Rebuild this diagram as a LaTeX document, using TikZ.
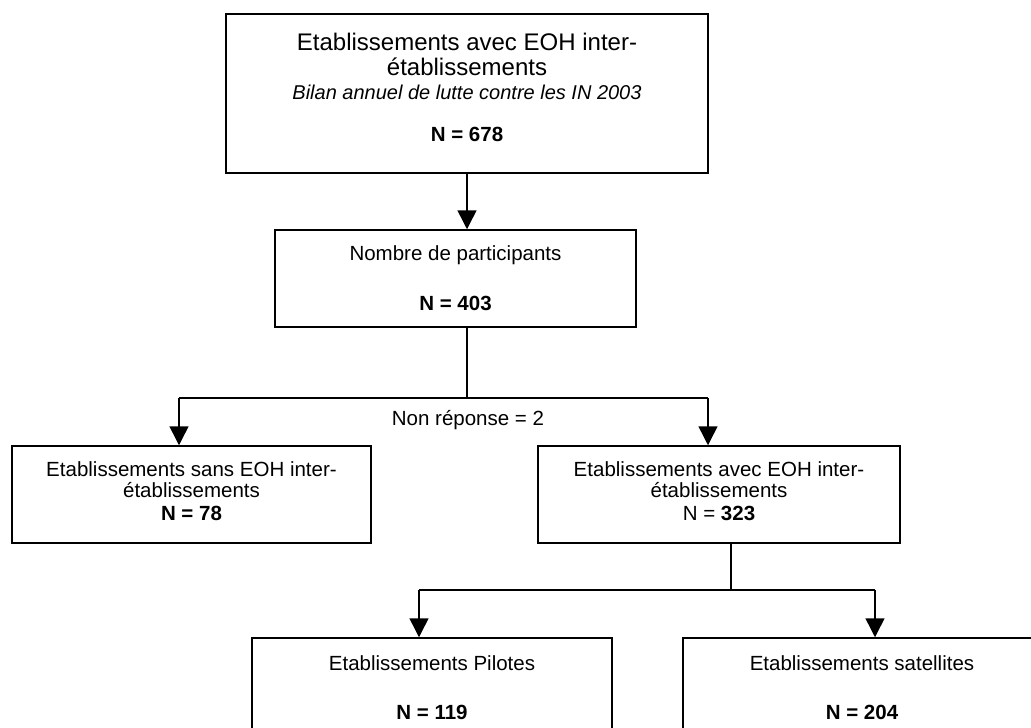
\documentclass[tikz,border=0pt]{standalone}
\usepackage{fontspec}
\setmainfont{Liberation Sans}
\usepackage{tikz}
\usetikzlibrary{arrows.meta, calc, positioning}
\tikzset{>={Triangle[width=19pt,length=19pt]}}

\begin{document}
\begin{tikzpicture}[x=1pt, y=-1pt,
		box/.style={draw, line width=1.5pt, inner sep=0pt, align=center, font=\fontsize{20.5}{23}\selectfont},
		link/.style={line width=1.5pt}]
				\useasboundingbox (0,0) rectangle (1031,728);
				\node[box, minimum width=482pt, minimum height=159pt] (etab) at (467,93.5)
					{\fontsize{24}{28}\selectfont Etablissements avec EOH inter-\\[2pt]
					 \fontsize{24}{28}\selectfont établissements\\[1pt]
					 \fontsize{20}{23}\selectfont\itshape Bilan annuel de lutte contre les IN 2003\\[19pt]
					 \fontsize{20.5}{23}\selectfont\bfseries N = 678\rule[-12pt]{0pt}{12pt}};
				\node[box, minimum width=361pt, minimum height=97pt] (part) at (455.5,278.5)
					{Nombre de participants\\[27pt]\textbf{N = 403}};
				\node[box, minimum width=359pt, minimum height=97pt] (sans) at (191.5,494.5)
					{Etablissements sans EOH inter-\\[-2pt]établissements\\\textbf{N = 78}\rule[-6pt]{0pt}{6pt}};
				\node[box, minimum width=362pt, minimum height=97pt] (avec) at (719,494.5)
					{Etablissements avec EOH inter-\\[-2pt]établissements\\N = \textbf{323}\rule[-6pt]{0pt}{6pt}};
				\node[box, minimum width=360pt, minimum height=100pt] (pilote) at (432,688)
					{Etablissements Pilotes\\[26pt]\textbf{N = 119}};
				\node[box, minimum width=358pt, minimum height=100pt] (satel) at (862,688)
					{Etablissements satellites\\[26pt]\textbf{N = 204}};
				\draw[link, ->] (etab.south) -- (etab.south |- part.north);
				\coordinate (split1) at (467,398);
				\coordinate (left1) at (179,398);
				\coordinate (right1) at (708,398);
				\draw[link] (part.south -| split1) -- (split1);
				\draw[link] (left1) -- (right1);
				\draw[link, ->] (left1) -- (left1 |- sans.north);
				\draw[link, ->] (right1) -- (right1 |- avec.north);
				\node[font=\fontsize{20.5}{23}\selectfont] (nonrep) at (468,420) {Non réponse = 2};
				\coordinate (split2) at (731,590);
				\coordinate (left2) at (419,590);
				\coordinate (right2) at (875,590);
				\draw[link] (avec.south -| split2) -- (split2);
				\draw[link] (left2) -- (right2);
				\draw[link, ->] (left2) -- (left2 |- pilote.north);
				\draw[link, ->] (right2) -- (right2 |- satel.north);
			\end{tikzpicture}
\end{document}
